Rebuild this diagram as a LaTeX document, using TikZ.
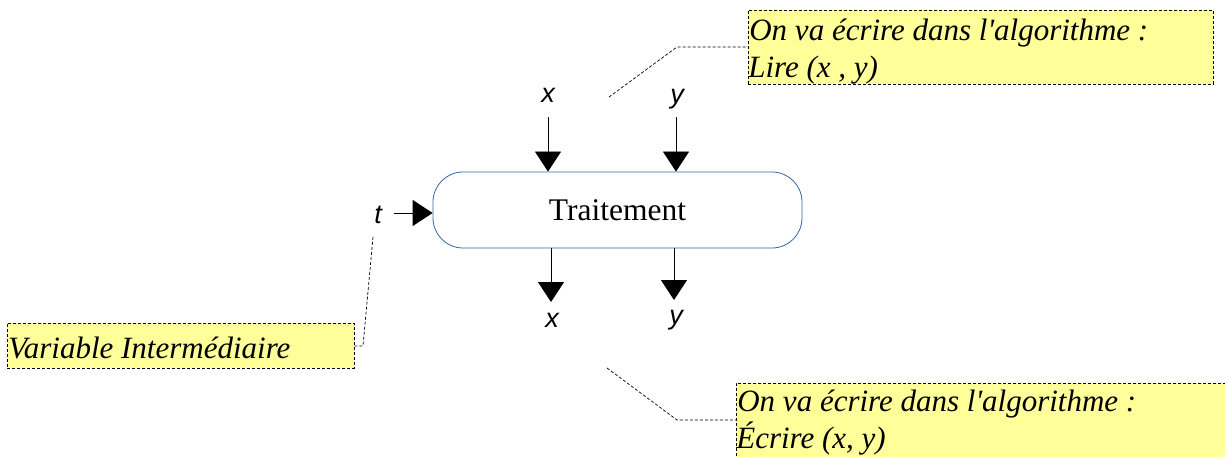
\documentclass[tikz,border=0pt]{standalone}
\usepackage{fontspec}
\setmainfont{Liberation Serif}
\newfontfamily\varfont{Liberation Sans}
\usetikzlibrary{arrows.meta}
\definecolor{notebg}{HTML}{FFFF99}
\definecolor{boxline}{HTML}{3465A4}
\newcommand{\notetext}[4]{% width, height, first baseline, text
  \parbox[t][#2][t]{#1}{\hspace*{1pt}\rule{0pt}{#3}#4}}
\tikzset{
  flow/.style={draw=black, line width=0.8pt, -{Triangle[length=20pt,width=26pt]}},
  varlbl/.style={font=\varfont\itshape\fontsize{27}{30}\selectfont, inner sep=0pt},
  note/.style={draw=black, dash pattern=on 3pt off 2pt, fill=notebg, line width=0.7pt,
    anchor=north west, inner sep=0pt,
    font=\itshape\fontsize{31}{37}\selectfont},
  leader/.style={draw=black, line width=0.7pt, dash pattern=on 3pt off 2pt},
  procbox/.style={draw=boxline, line width=0.8pt, rounded corners=30pt,
    minimum width=369pt, minimum height=76pt, font=\fontsize{31.5}{34}\selectfont}
}
\begin{document}
\begin{tikzpicture}[x=1pt,y=-1pt]
\useasboundingbox (0,0) rectangle (1225,457);

% process block
\node[procbox] (proc) at (617.5,210) {Traitement};

% inputs
\node[varlbl] (xin) at (548,95) {x};
\node[varlbl] (yin) at (677,99) {y};
\coordinate (xinS) at (548,117);
\coordinate (yinS) at (676,117);
\draw[flow] (xinS) -- (xinS |- proc.north);
\draw[flow] (yinS) -- (yinS |- proc.north);

\node[varlbl] (tin) at (378,215) {t};
\coordinate (tinS) at (394,213);
\draw[flow] (tinS) -- (proc.west |- tinS);

% outputs
\node[varlbl] (xout) at (552,320) {x};
\node[varlbl] (yout) at (676,320) {y};
\coordinate (xoutS) at (551,248);
\coordinate (youtS) at (674,248);
\coordinate (xoutE) at (551,302);
\coordinate (youtE) at (674,300);
\draw[flow] (xoutS) -- (xoutE);
\draw[flow] (youtS) -- (youtE);

% notes
\node[note] (nread) at (748,10)
  {\notetext{465pt}{74pt}{30pt}{On va écrire dans l\textquotesingle algorithme :\\Lire (x , y)}};
\node[note] (ntmp) at (7,323)
  {\notetext{347pt}{45pt}{35pt}{Variable Intermédiaire}};
\node[note] (nwrite) at (736,383)
  {\notetext{500pt}{80pt}{28pt}{On va écrire dans l\textquotesingle algorithme :\\Écrire (x, y)}};

% leader lines
\coordinate (rA) at (609,97);
\coordinate (rB) at (677,47);
\draw[leader] (rA) -- (rB) -- (nread.west |- rB);
\coordinate (tA) at (373,237);
\coordinate (tB) at (363,346);
\draw[leader] (tA) -- (tB) -- (ntmp.east |- tB);
\coordinate (wA) at (607,368);
\coordinate (wB) at (677,420);
\draw[leader] (wA) -- (wB) -- (nwrite.west |- wB);
\end{tikzpicture}
\end{document}
